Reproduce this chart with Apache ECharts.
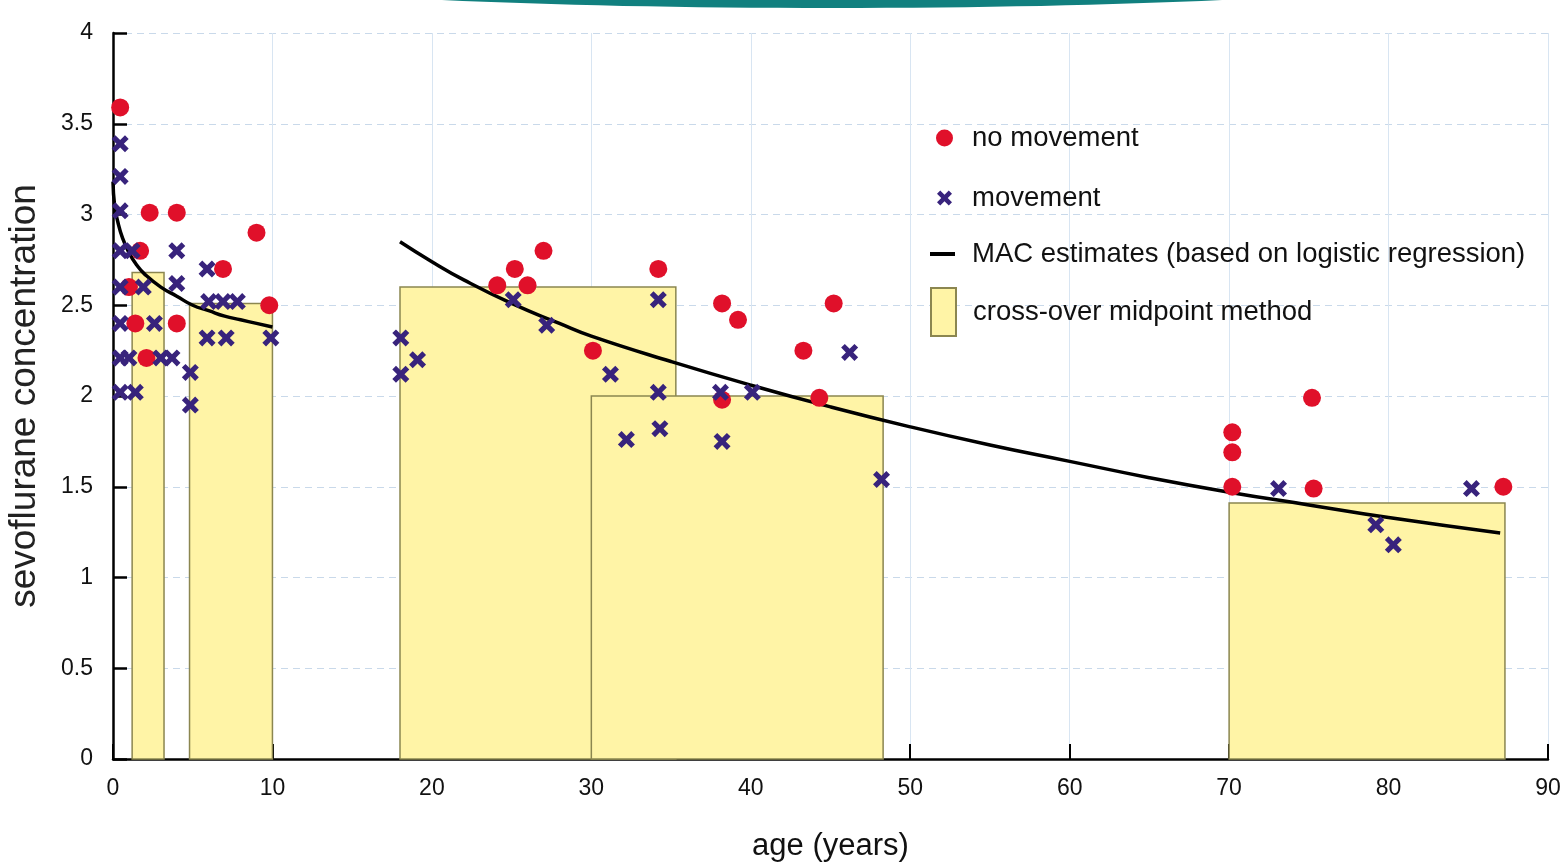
<!DOCTYPE html>
<html><head><meta charset="utf-8">
<script src="https://cdn.jsdelivr.net/npm/echarts@6/dist/echarts.min.js"></script>
<style>html,body{margin:0;padding:0;background:#fff}#c{width:1563px;height:867px}</style>
</head><body><div id="c"></div>
<script>
// ---- data ----
const noMovement = [[0.45,3.59],[2.3,3.01],[4.0,3.01],[9.0,2.90],[1.7,2.80],[6.9,2.70],[1.0,2.60],[9.8,2.50],[1.4,2.40],[4.0,2.40],[2.1,2.21],
  [24.1,2.61],[25.2,2.70],[26.0,2.61],[27.0,2.80],[30.1,2.25],[34.2,2.70],[38.2,2.51],[39.2,2.42],[38.2,1.98],[43.3,2.25],[45.2,2.51],[44.3,1.99],
  [70.2,1.80],[70.2,1.69],[70.2,1.50],[75.2,1.99],[75.3,1.49],[87.2,1.50]];
const movement = [[0.45,3.39],[0.45,3.21],[0.45,3.02],[0.45,2.80],[1.2,2.80],[4.0,2.80],[5.9,2.70],[0.45,2.60],[1.9,2.60],[4.0,2.62],
  [6.0,2.52],[6.9,2.52],[7.8,2.52],[0.45,2.40],[2.6,2.40],[5.9,2.32],[7.1,2.32],[9.9,2.32],[0.45,2.21],[1.0,2.21],[3.0,2.21],[3.7,2.21],
  [4.85,2.13],[0.45,2.02],[1.4,2.02],[4.85,1.95],[18.05,2.32],[19.1,2.20],[18.05,2.12],[25.1,2.53],[27.2,2.39],[31.2,2.12],[34.2,2.53],
  [34.2,2.02],[32.2,1.76],[34.3,1.82],[38.1,2.02],[40.1,2.02],[38.2,1.75],[46.2,2.24],[48.2,1.54],[73.1,1.49],[79.2,1.29],[80.3,1.18],[85.2,1.49]];
const curveYoungX = [0,0.1,0.3,0.6,1,1.5,2,3,4,5,6,7,8,9,10];
const curveYoungY = [3.18,3.05,2.96,2.87,2.79,2.72,2.67,2.60,2.55,2.50,2.47,2.44,2.42,2.40,2.38];
const curveOldX = [18,20,22,25,28,30,35,40,45,50,55,60,65,70,75,80,87];
const curveOldY = [2.85,2.74,2.64,2.51,2.40,2.33,2.19,2.06,1.94,1.83,1.73,1.64,1.55,1.47,1.40,1.33,1.245];
const bandStart = [1.2,4.8,18,30,70];
const bandEnd = [3.2,10,35.3,48.3,87.3];
const bandValue = [2.68,2.51,2.60,2.00,1.41];
const legendNames = ['no movement','movement','MAC estimates (based on logistic regression)','cross-over midpoint method'];

const xPath = 'path://M0,2.6 L2.6,0 L6,3.4 L9.4,0 L12,2.6 L8.6,6 L12,9.4 L9.4,12 L6,8.6 L2.6,12 L0,9.4 L3.4,6 Z';
const SANS = '"Liberation Sans", Arial, sans-serif';
const RED = '#e0102a', PURPLE = '#38237c';

const chart = echarts.init(document.getElementById('c'), null, {renderer:'canvas'});
const legendText = {fontFamily: SANS, fontSize: 27.5, color:'#111'};
function lt(pad){ return Object.assign({padding:[0,0,0,pad]}, legendText); }
chart.setOption({
  animation:false,
  backgroundColor:'#fff',
  graphic:[{type:'ellipse', shape:{cx:832, cy:-32, rx:650, ry:40}, style:{fill:'#11807f'}, silent:true, z:-1}],
  grid:{left:113, right:15, top:33, bottom:108, containLabel:false, outerBoundsMode:'none'},
  xAxis:{type:'value', min:0, max:90, interval:10,
    name:'age (years)', nameLocation:'middle', nameGap:72,
    nameTextStyle:{fontFamily:SANS, fontSize:31, color:'#111'},
    axisLine:{lineStyle:{color:'#000', width:2.5}},
    axisTick:{inside:true, length:15, lineStyle:{color:'#000', width:2}},
    axisLabel:{fontFamily:SANS, fontSize:23, color:'#111', margin:18},
    splitLine:{show:true, lineStyle:{color:'#d8e5f2', width:1}}},
  yAxis:{type:'value', min:0, max:4, interval:0.5,
    name:'sevoflurane concentration', nameLocation:'middle', nameGap:70,
    nameTextStyle:{fontFamily:SANS, fontSize:37, color:'#222'},
    axisLine:{show:true, lineStyle:{color:'#000', width:2.5}},
    axisTick:{show:true, inside:true, length:14, lineStyle:{color:'#000', width:2.5}},
    axisLabel:{fontFamily:SANS, fontSize:23, color:'#111', margin:20},
    splitLine:{show:true, lineStyle:{color:'#c9d9ea', width:1.2, type:[7,5]}}},
  legend:[
    {data:[{name:legendNames[0], icon:'circle'}], left:936, top:124, padding:0, orient:'vertical', itemWidth:17, itemHeight:17, selectedMode:false, textStyle:lt(14)},
    {data:[{name:legendNames[1], icon:xPath}], left:937, top:184, padding:0, orient:'vertical', itemWidth:15, itemHeight:15, selectedMode:false, textStyle:lt(15)},
    {data:[{name:legendNames[2], icon:'rect', itemStyle:{color:'#000'}}], left:930, top:240, padding:0, orient:'vertical', itemWidth:25, itemHeight:4, selectedMode:false, textStyle:lt(12)},
    {data:[{name:legendNames[3], icon:'rect'}], left:930, top:287, padding:0, orient:'vertical', itemWidth:25, itemHeight:48, selectedMode:false, textStyle:lt(12)}
  ],
  series:[
    {name:legendNames[3], type:'custom', z:1,
      data: bandStart.map((s,i)=>[s, bandEnd[i], bandValue[i]]),
      encode:{x:[0,1], y:2},
      itemStyle:{color:'#fff4a6', borderColor:'#8b8650', borderWidth:1.5},
      renderItem:function(params, api){
        const p0 = api.coord([api.value(0), api.value(2)]);
        const p1 = api.coord([api.value(1), 0]);
        return {type:'rect', shape:{x:p0[0], y:p0[1], width:p1[0]-p0[0], height:p1[1]-p0[1]},
          style:{fill:'#fff4a6', stroke:'#8b8650', lineWidth:1.5}};
      }},
    {name:legendNames[2], type:'line', z:3, smooth:true, showSymbol:false, symbol:'none',
      data: curveYoungX.map((x,i)=>[x, curveYoungY[i]]),
      lineStyle:{color:'#000', width:3.5}, itemStyle:{color:'#000'}},
    {name:legendNames[2], type:'line', z:3, smooth:true, showSymbol:false, symbol:'none',
      data: curveOldX.map((x,i)=>[x, curveOldY[i]]),
      lineStyle:{color:'#000', width:3.5}, itemStyle:{color:'#000'}},
    {name:legendNames[0], type:'scatter', z:4, symbol:'circle', symbolSize:18,
      data: noMovement, itemStyle:{color:RED, opacity:1}},
    {name:legendNames[1], type:'scatter', z:5, symbol:xPath, symbolSize:17,
      data: movement, itemStyle:{color:PURPLE, opacity:1}}
  ]
});
</script></body></html>
